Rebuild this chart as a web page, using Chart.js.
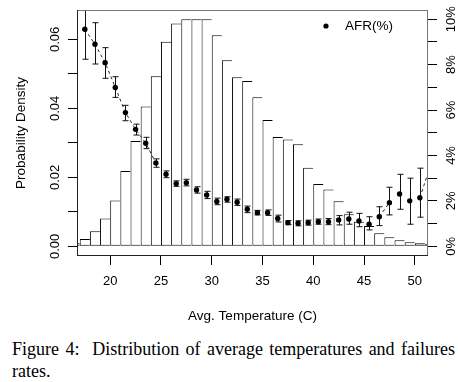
<!DOCTYPE html>
<html>
<head>
<meta charset="utf-8">
<script src="https://cdn.jsdelivr.net/npm/chart.js@4/dist/chart.umd.min.js"></script>
<style>
  body { margin: 0; background: #fff; }
  #wrap { position: relative; width: 458px; height: 382px; }
  #box { position: absolute; left: 0; top: 0; width: 458px; height: 330px; }
  #caption {
    position: absolute; left: 12px; top: 338px; width: 443px; margin: 0;
    font-family: "Liberation Serif", "Times New Roman", serif; font-size: 18px;
    line-height: 22px; text-align: justify; color: #000;
  }
</style>
</head>
<body>
<div id="wrap">
  <div id="box"><canvas id="chart"></canvas></div>
  <p id="caption">Figure 4:&nbsp; Distribution of average temperatures and failures rates.</p>
</div>
<script>
// histogram bins (1 degree wide, centre values) and density
const binCenters = [16.5, 17.5, 18.5, 19.5, 20.5, 21.5, 22.5, 23.5, 24.5, 25.5, 26.5, 27.5,
  28.5, 29.5, 30.5, 31.5, 32.5, 33.5, 34.5, 35.5, 36.5, 37.5, 38.5, 39.5, 40.5, 41.5, 42.5,
  43.5, 44.5, 45.5, 46.5, 47.5, 48.5, 49.5, 50.5, 51.5];
const density = [0.0009, 0.0021, 0.0044, 0.0081, 0.0133, 0.0218, 0.0305, 0.0405, 0.0493, 0.0593,
  0.0646, 0.0658, 0.0658, 0.0658, 0.0612, 0.0539, 0.0490, 0.0479, 0.0432, 0.0366, 0.0317, 0.0310,
  0.0296, 0.0228, 0.0181, 0.0165, 0.0131, 0.0093, 0.0071, 0.0059, 0.0038, 0.0026, 0.0018, 0.0012,
  0.0009, 0.0006];

// AFR (%) per temperature with error bar ends
const afrTemps = [17.5, 18.5, 19.5, 20.5, 21.5, 22.5, 23.5, 24.5, 25.5, 26.5, 27.5, 28.5, 29.5,
  30.5, 31.5, 32.5, 33.5, 34.5, 35.5, 36.5, 37.5, 38.5, 39.5, 40.5, 41.5, 42.5, 43.5, 44.5, 45.5,
  46.5, 47.5, 48.5, 49.5, 50.5, 51.5];
const afr = [9.56, 8.9, 8.09, 7.0, 5.89, 5.15, 4.54, 3.67, 3.17, 2.76, 2.80, 2.48, 2.26, 1.97,
  2.07, 1.94, 1.63, 1.48, 1.48, 1.22, 1.04, 1.01, 1.04, 1.08, 1.08, 1.16, 1.2, 1.11, 0.97, 1.3,
  1.92, 2.3, 2.0, 2.14, 3.5];
const afrLow = [8.24, 8.03, 7.4, 6.56, 5.53, 4.9, 4.3, 3.48, 3.02, 2.64, 2.66, 2.34, 2.1, 1.83,
  1.94, 1.8, 1.48, 1.38, 1.36, 1.07, 0.95, 0.9, 0.93, 0.97, 0.95, 0.94, 0.97, 0.86, 0.72, 0.91,
  1.38, 1.63, 0.97, 1.28, null];
const afrHigh = [10.9, 9.85, 8.75, 7.47, 6.21, 5.38, 4.8, 3.85, 3.32, 2.88, 2.95, 2.62, 2.42, 2.12,
  2.18, 2.08, 1.77, 1.58, 1.6, 1.37, 1.13, 1.12, 1.15, 1.2, 1.22, 1.35, 1.5, 1.45, 1.3, 1.74,
  2.6, 3.17, 3.0, 3.44, null];

const densityTicks = [0, 0.02, 0.04, 0.06];
const densityLabels = ['0.00', '0.02', '0.04', '0.06'];
const afrTicks = [0, 2, 4, 6, 8, 10];
const afrLabels = ['0%', '2%', '4%', '6%', '8%', '10%'];

const sans = '"Liberation Sans", Arial, Helvetica, sans-serif';

// error bars under the AFR points
const errorBars = {
  id: 'errorBars',
  beforeDatasetDraw(chart, args) {
    if (args.index !== 1) return;
    const { ctx, chartArea, scales } = chart;
    ctx.save();
    ctx.beginPath();
    ctx.rect(chartArea.left, chartArea.top, chartArea.width, chartArea.height);
    ctx.clip();
    ctx.strokeStyle = '#111';
    ctx.lineWidth = 1;
    afrTemps.forEach((t, i) => {
      if (afrLow[i] == null) return;
      const px = Math.round(scales.x.getPixelForValue(t)) + 0.5;
      const lo = scales.y1.getPixelForValue(afrLow[i]);
      const hi = scales.y1.getPixelForValue(afrHigh[i]);
      ctx.beginPath();
      ctx.moveTo(px, lo); ctx.lineTo(px, hi);
      ctx.moveTo(px - 3, lo); ctx.lineTo(px + 3, lo);
      ctx.moveTo(px - 3, hi); ctx.lineTo(px + 3, hi);
      ctx.stroke();
    });
    ctx.restore();
  }
};

// plot box, rotated y labels (R style) and the legend
const frame = {
  id: 'frame',
  afterDraw(chart) {
    const { ctx, chartArea: a, scales } = chart;
    ctx.save();
    ctx.lineWidth = 1;
    ctx.strokeStyle = '#777';
    ctx.beginPath();
    ctx.moveTo(a.left, a.top + 0.5); ctx.lineTo(a.right, a.top + 0.5);
    ctx.moveTo(a.right - 0.5, a.top); ctx.lineTo(a.right - 0.5, a.bottom);
    ctx.stroke();
    ctx.strokeStyle = '#222';
    ctx.beginPath();
    ctx.moveTo(a.left + 0.5, a.top); ctx.lineTo(a.left + 0.5, a.bottom);
    ctx.moveTo(a.left, a.bottom - 0.5); ctx.lineTo(a.right, a.bottom - 0.5);
    ctx.stroke();

    ctx.fillStyle = '#000';
    ctx.font = '13px ' + sans;
    ctx.textAlign = 'center';
    ctx.textBaseline = 'middle';
    densityTicks.forEach((v, i) => {
      ctx.save();
      ctx.translate(55, scales.y.getPixelForValue(v));
      ctx.rotate(-Math.PI / 2);
      ctx.fillText(densityLabels[i], 0, 0);
      ctx.restore();
    });
    afrTicks.forEach((v, i) => {
      ctx.save();
      ctx.translate(451, scales.y1.getPixelForValue(v));
      ctx.rotate(-Math.PI / 2);
      ctx.fillText(afrLabels[i], 0, 0);
      ctx.restore();
    });

    // legend
    ctx.beginPath();
    ctx.arc(326, 26, 2.6, 0, Math.PI * 2);
    ctx.fill();
    ctx.font = '13.5px ' + sans;
    ctx.textAlign = 'left';
    ctx.fillText('AFR(%)', 345, 26);
    ctx.restore();
  }
};

// like R's type="b": short links between points disappear behind the gaps
function linkColor(seg) {
  const len = Math.hypot(seg.p1.x - seg.p0.x, seg.p1.y - seg.p0.y);
  return len < 15.5 ? 'rgba(0,0,0,0)' : '#222';
}

const ctx = document.getElementById('chart').getContext('2d');
new Chart(ctx, {
  type: 'bar',
  data: {
    datasets: [{
      type: 'bar',
      label: 'Density',
      data: binCenters.map((c, i) => ({ x: c, y: density[i] })),
      yAxisID: 'y',
      backgroundColor: '#fff',
      borderColor: '#000',
      borderWidth: { left: 1, top: 1, right: 0, bottom: 1 },
      borderSkipped: false,
      inflateAmount: 0,
      barPercentage: 1,
      categoryPercentage: 1,
      order: 2
    }, {
      type: 'line',
      label: 'AFR(%)',
      data: afrTemps.map((t, i) => ({ x: t, y: afr[i] })),
      yAxisID: 'y1',
      borderColor: '#222',
      borderWidth: 1,
      borderDash: [3, 3],
      segment: { borderColor: linkColor },
      pointRadius: 2.7,
      pointBorderWidth: 0,
      pointBackgroundColor: '#000',
      tension: 0,
      order: 1
    }]
  },
  options: {
    responsive: true,
    maintainAspectRatio: false,
    animation: false,
    layout: { padding: { top: 10, left: 0, right: 0, bottom: 0 } },
    plugins: { legend: { display: false }, tooltip: { enabled: false } },
    scales: {
      x: {
        type: 'linear',
        min: 16.73,
        max: 51.3,
        offset: false,
        ticks: { stepSize: 5, includeBounds: false, color: '#000', padding: 9, font: { size: 13, family: sans } },
        grid: { offset: false, drawOnChartArea: false, tickLength: 9, color: '#000' },
        border: { display: false },
        title: { display: true, text: 'Avg. Temperature (C)', color: '#000', font: { size: 13.5, family: sans }, padding: { top: 0, bottom: 6 } },
        afterFit(s) { s.height = 74; }
      },
      y: {
        position: 'left',
        min: -0.0028,
        max: 0.0685,
        ticks: { display: false, stepSize: 0.01, includeBounds: false },
        grid: { drawOnChartArea: false, tickLength: 9, color: '#000' },
        border: { display: false },
        title: { display: true, text: 'Probability Density', color: '#000', font: { size: 13.5, family: sans }, padding: { top: 13, bottom: 0 } },
        afterFit(s) { s.width = 77; }
      },
      y1: {
        position: 'right',
        min: -0.43,
        max: 10.41,
        ticks: { display: false, stepSize: 1, includeBounds: false },
        grid: { drawOnChartArea: false, tickLength: 9, color: '#000' },
        border: { display: false },
        afterFit(s) { s.width = 30; }
      }
    }
  },
  plugins: [errorBars, frame]
});
</script>
</body>
</html>
